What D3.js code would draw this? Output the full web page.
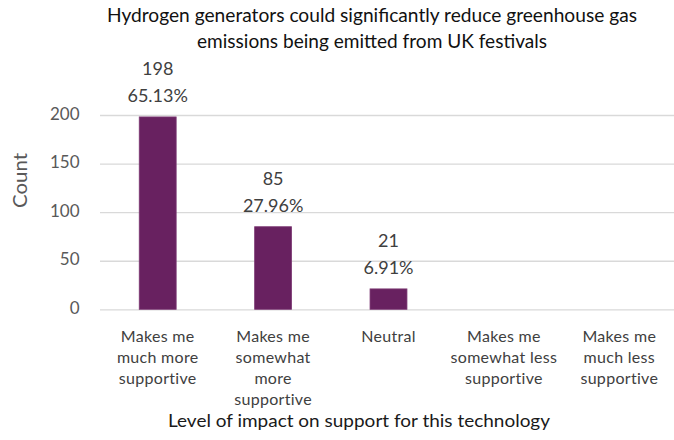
<!DOCTYPE html>
<html>
<head>
<meta charset="utf-8">
<script src="https://cdn.jsdelivr.net/npm/d3@7"></script>
<style>
  html, body { margin: 0; padding: 0; background: #fff; }
  svg { display: block; font-family: Lato, "Open Sans", sans-serif; }
</style>
</head>
<body>
<svg id="chart" width="674" height="440"></svg>
<script>
// Survey responses: impact of hydrogen generators on support
const categories = [
  ["Makes me", "much more", "supportive"],
  ["Makes me", "somewhat", "more", "supportive"],
  ["Neutral"],
  ["Makes me", "somewhat less", "supportive"],
  ["Makes me", "much less", "supportive"]
];
const counts = [198, 85, 21, 0, 0];
const percents = ["65.13%", "27.96%", "6.91%", "", ""];
const yTicks = [0, 50, 100, 150, 200];
const titleLines = [
  "Hydrogen generators could significantly reduce greenhouse gas",
  "emissions being emitted from UK festivals"
];
const xTitle = "Level of impact on support for this technology";
const yTitle = "Count";

const svg = d3.select("#chart");
const W = 674;
const plot = { left: 100, right: 677, top: 115, bottom: 309.3 };
const ids = categories.map((_, i) => i);

const x = d3.scaleBand().domain(ids).range([plot.left, plot.right]);
const y = d3.scaleLinear().domain([0, 200]).range([plot.bottom, plot.top]);
const barFrac = 0.32;
const cx = i => x(i) + x.bandwidth() / 2;

// set text to an exact rendered width
function fit(sel, w) {
  sel.each(function (d, i) {
    const target = typeof w === "function" ? w(d, i) : w;
    d3.select(this).attr("textLength", target).attr("lengthAdjust", "spacingAndGlyphs");
  });
}

// gridlines
svg.append("g")
  .attr("transform", `translate(${plot.left},0)`)
  .call(d3.axisLeft(y).tickValues(yTicks).tickSize(-(W - plot.left)).tickFormat(""))
  .call(g => g.select(".domain").remove())
  .call(g => g.selectAll("line").attr("stroke", "#d9d9d9").attr("stroke-width", 1.3));

// y tick labels
svg.append("g")
  .selectAll("text")
  .data(yTicks)
  .join("text")
  .attr("x", 79.5)
  .attr("y", d => y(d) + 4.5)
  .attr("text-anchor", "end")
  .attr("fill", "#595959")
  .attr("font-size", 17)
  .text(d => d);

// bars
svg.append("g")
  .selectAll("rect")
  .data(ids.filter(i => counts[i] > 0))
  .join("rect")
  .attr("x", i => x(i) + x.bandwidth() * (1 - barFrac) / 2)
  .attr("width", x.bandwidth() * barFrac)
  .attr("y", i => y(counts[i]))
  .attr("height", i => y(0) - y(counts[i]))
  .attr("fill", "#682160")
  .attr("stroke", "#7d3a74")
  .attr("stroke-width", 0.8);

// value labels: count and share
const lab = svg.append("g")
  .attr("fill", "#404040")
  .attr("font-size", 18)
  .attr("text-anchor", "middle");
ids.filter(i => counts[i] > 0).forEach(i => {
  lab.append("text").attr("x", cx(i)).attr("y", y(counts[i]) - 42).text(counts[i]);
  lab.append("text").attr("x", cx(i)).attr("y", y(counts[i]) - 15).text(percents[i]);
});

// category labels
const cat = svg.append("g")
  .attr("fill", "#404040")
  .attr("font-size", 16)
  .attr("letter-spacing", 0.3)
  .attr("text-anchor", "middle");
categories.forEach((lines, i) => {
  lines.forEach((t, k) => {
    cat.append("text")
      .attr("x", cx(i))
      .attr("y", 341.5 + k * 21.3)
      .text(t);
  });
});

// chart title
svg.append("g")
  .selectAll("text")
  .data(titleLines)
  .join("text")
  .attr("x", 372)
  .attr("y", (d, i) => 21.7 + i * 26.6)
  .attr("text-anchor", "middle")
  .attr("fill", "#111")
  .attr("font-size", 18.5)
  .text(d => d)
  .call(fit, (d, i) => [530, 350][i]);

// axis titles
svg.append("text")
  .attr("x", 359)
  .attr("y", 426.5)
  .attr("text-anchor", "middle")
  .attr("fill", "#1a1a1a")
  .attr("font-size", 16.5)
  .text(xTitle)
  .call(fit, 382);

svg.append("text")
  .attr("transform", "translate(27,180.5) rotate(-90)")
  .attr("text-anchor", "middle")
  .attr("fill", "#595959")
  .attr("font-size", 20)
  .text(yTitle)
  .call(fit, 55);
</script>
</body>
</html>
